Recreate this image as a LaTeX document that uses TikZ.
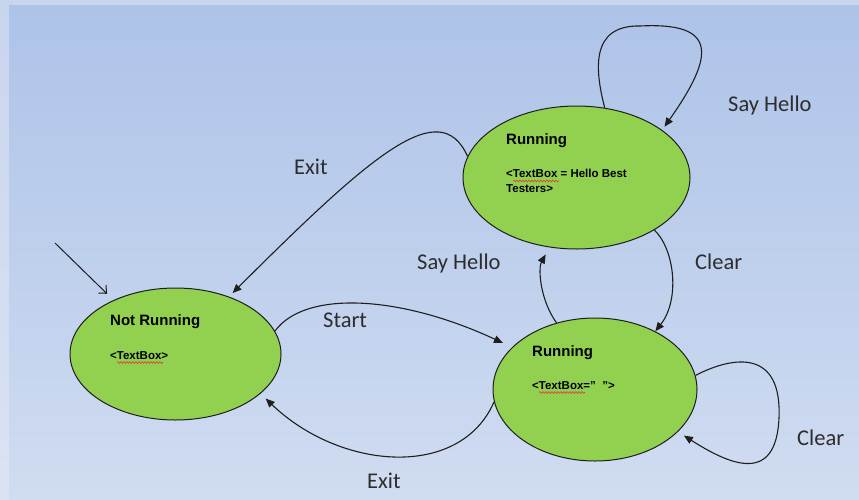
\documentclass[tikz,border=0pt]{standalone}
\usepackage{fontspec}
\setmainfont{Liberation Sans}
\newfontfamily\labelfont{Carlito}
\usetikzlibrary{shapes.geometric,arrows.meta,decorations.pathmorphing}

\definecolor{frameTop}{RGB}{200,213,238}
\definecolor{frameBot}{RGB}{219,227,243}
\definecolor{panelTop}{RGB}{173,195,232}
\definecolor{panelBot}{RGB}{208,220,241}
\definecolor{stateFill}{RGB}{146,208,80}
\definecolor{lineCol}{RGB}{30,30,30}
\definecolor{labelCol}{RGB}{45,45,45}
\definecolor{squigCol}{RGB}{225,60,60}

\tikzset{
  statebox/.style={ellipse, draw=lineCol, line width=1pt, fill=stateFill, inner sep=0pt},
  titletext/.style={anchor=base west, inner sep=0pt, font=\fontsize{15}{18}\selectfont\bfseries},
  bodytext/.style={anchor=base west, inner sep=0pt, font=\fontsize{11.5}{15}\selectfont\bfseries},
  edgelabel/.style={anchor=base west, inner sep=0pt, text=labelCol, font=\labelfont\fontsize{22.5}{26}\selectfont},
  trans/.style={draw=lineCol, line width=1.1pt, -{Triangle[length=9pt,width=7.5pt]}},
  initarrow/.style={draw=lineCol, line width=1pt, -{Straight Barb[length=6pt,width=11pt]}},
  squiggle/.style={draw=squigCol, line width=0.6pt, decorate,
    decoration={snake, segment length=3pt, amplitude=0.9pt}}
}

\begin{document}
\begin{tikzpicture}[x=1pt, y=-1pt]
  \useasboundingbox (0,0) rectangle (859,499);

  % backdrop: light frame and shaded panel
  \fill[top color=frameTop, bottom color=frameBot] (0,0) rectangle (859,499);
  \fill[top color=panelTop, bottom color=panelBot] (9,5) rectangle (859,499);

  % states
  \node[statebox, minimum width=211pt, minimum height=132pt] (nr)   at (175.5,354)   {};
  \node[statebox, minimum width=227pt, minimum height=143pt] (run1) at (576.5,177.5) {};
  \node[statebox, minimum width=204pt, minimum height=143pt] (run2) at (595,389.5)   {};

  % state texts
  \node[titletext] (nrTitle)   at (110,325.7) {Not Running};
  \node[bodytext]  (nrBody)    at (110,359)   {<TextBox>};
  \node[titletext] (run1Title) at (506,144.3) {Running};
  \node[bodytext]  (run1BodyA) at (506,177.3) {<TextBox = Hello Best};
  \node[bodytext]  (run1BodyB) at (506,192.3) {Testers>};
  \node[titletext] (run2Title) at (532,356.7) {Running};
  \node[bodytext]  (run2Body)  at (532,389)   {<TextBox=\textquotedblright\ \ \textquotedblright>};

  % spell-check underlines
  \draw[squiggle] (117,362.5) -- (163,362.5);
  \draw[squiggle] (513,181) -- (559,181);
  \draw[squiggle] (539,392.5) -- (585,392.5);

  % initial arrow
  \coordinate (start) at (55,243);
  \draw[initarrow, shorten >=9pt] (start) -- (nr.139.7);

  % transitions
  \draw[trans, shorten >=5pt] (run1.169) .. controls (440,95) and (373,153) .. (nr.47);
  \draw[trans, shorten >=10pt] (nr.13) .. controls (305,290) and (400,295) .. (run2.153);
  \draw[trans, shorten >=7pt] (run2.187) .. controls (460,480) and (340,470) .. (nr.-25);
  \draw[trans, shorten >=8pt] (run2.120) .. controls (540,300) and (538,268) .. (run1.249);
  \draw[trans] (run1.-34) .. controls (675,250) and (680,300) .. (run2.44);
  \draw[trans, shorten >=4pt] (run1.68) .. controls (595,70) and (590,25) .. (640,26)
        .. controls (718,22) and (715,55) .. (run1.29);
  \draw[trans, shorten >=7pt] (run2.8) .. controls (735,355) and (782,350) .. (779,418)
        .. controls (776,485) and (730,465) .. (run2.-27);

  % transition labels
  \node[edgelabel] (lblHelloTop) at (728,111) {Say Hello};
  \node[edgelabel] (lblExitTop)  at (294,174) {Exit};
  \node[edgelabel] (lblHelloMid) at (417,269) {Say Hello};
  \node[edgelabel] (lblClearMid) at (695,269) {Clear};
  \node[edgelabel] (lblStart)    at (323,327) {Start};
  \node[edgelabel] (lblExitBot)  at (367,488) {Exit};
  \node[edgelabel] (lblClearBot) at (797,445) {Clear};
\end{tikzpicture}
\end{document}
